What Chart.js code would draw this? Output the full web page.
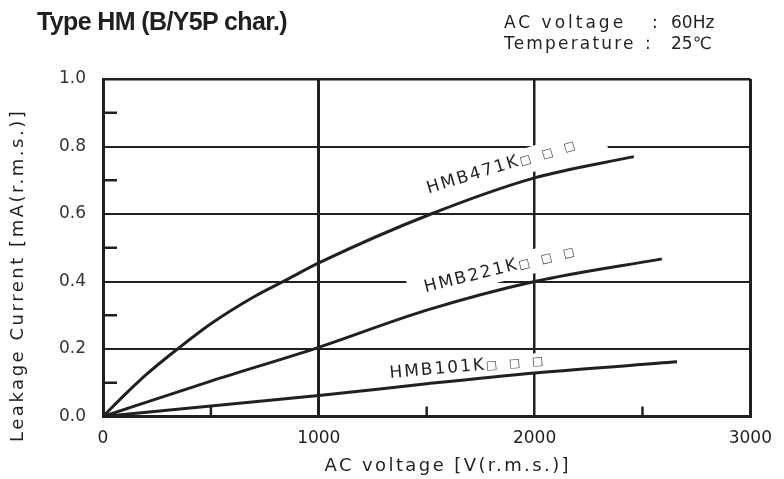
<!DOCTYPE html>
<html>
<head>
<meta charset="utf-8">
<script src="https://cdn.jsdelivr.net/npm/chart.js@4.4.1/dist/chart.umd.min.js"></script>
<style>
  html, body { margin: 0; padding: 0; background: #fff; }
  #wrap { position: relative; width: 784px; height: 479px; overflow: hidden; }
  #chart { position: absolute; left: 0; top: 0; }
  .txt { position: absolute; white-space: nowrap; color: #231f20; line-height: 1;
         font-family: 'DejaVu Sans', sans-serif; }
  #title { left: 37px; top: 7px; font: bold 25px 'Liberation Sans', sans-serif; }
  .hdr { font-size: 17px; }
  #yTitle { font-size: 18px; transform-origin: 0 0; }
  #xTitle { font-size: 18px; }
</style>
</head>
<body>
<div id="wrap">
  <canvas id="chart" width="784" height="479"></canvas>
  <div class="txt" id="title">Type HM (B/Y5P char.)</div>
  <div class="txt hdr" id="h1a" style="left:504px;top:14px">AC voltage</div>
  <div class="txt hdr" id="h1b" style="left:652px;top:14px">:</div>
  <div class="txt hdr" id="h1c" style="left:671px;top:14px">60Hz</div>
  <div class="txt hdr" id="h2a" style="left:504px;top:35px">Temperature</div>
  <div class="txt hdr" id="h2b" style="left:645px;top:35px">:</div>
  <div class="txt hdr" id="h2c" style="left:671px;top:35px">25℃</div>
  <div class="txt" id="yTitle">Leakage Current [mA(r.m.s.)]</div>
  <div class="txt" id="xTitle">AC voltage [V(r.m.s.)]</div>
</div>
<script>
// axes
const xTicks = [0, 1000, 2000, 3000];
const yTicks = [0.0, 0.2, 0.4, 0.6, 0.8, 1.0];
const xMinorTicks = [500, 1500, 2500];
const yMinorTicks = [0.1, 0.3, 0.5, 0.7, 0.9];

// curves: voltage [V] / leakage current [mA]
const hmb471kVoltage = [0, 100, 200, 345, 500, 700, 850, 1000, 1520, 2000, 2460];
const hmb471kCurrent = [0, 0.064, 0.124, 0.2, 0.275, 0.355, 0.405, 0.455, 0.6, 0.707, 0.77];
const hmb221kVoltage = [0, 500, 1000, 1500, 2000, 2590];
const hmb221kCurrent = [0, 0.105, 0.205, 0.315, 0.40, 0.467];
const hmb101kVoltage = [0, 500, 1000, 1500, 2000, 2660];
const hmb101kCurrent = [0, 0.031, 0.062, 0.097, 0.129, 0.162];

const seriesNames = ['HMB471K', 'HMB221K', 'HMB101K'];

// where each curve name sits (data coords of text start), with its slope
const curveLabels = [
  { text: 'HMB471K', x: 1508, y: 0.661, angle: -17, top: 15, bottom: 10, end: 185 },
  { text: 'HMB221K', x: 1495, y: 0.368, angle: -14, top: 16, bottom: 8, end: 178 },
  { text: 'HMB101K', x: 1330, y: 0.114, angle: -5, top: 12, bottom: 7, end: 168 },
];

const INK = '#231f20';

function toPoints(xs, ys) {
  return xs.map((x, i) => ({ x, y: ys[i] }));
}

function fitWidth(id, target) {
  const el = document.getElementById(id);
  const n = el.textContent.length;
  const w = el.offsetWidth;
  el.style.letterSpacing = ((target - w) / n) + 'px';
}

const curveNotes = {
  id: 'curveNotes',
  beforeDatasetsDraw(chart) {
    const { ctx, chartArea, scales } = chart;
    ctx.save();
    ctx.strokeStyle = INK;
    ctx.lineWidth = 2.5;
    yMinorTicks.forEach((v) => {
      const y = scales.y.getPixelForValue(v);
      ctx.beginPath();
      ctx.moveTo(chartArea.left, y);
      ctx.lineTo(chartArea.left + 14, y);
      ctx.stroke();
    });
    xMinorTicks.forEach((v) => {
      const x = scales.x.getPixelForValue(v);
      ctx.beginPath();
      ctx.moveTo(x, chartArea.bottom);
      ctx.lineTo(x, chartArea.bottom - 10);
      ctx.stroke();
    });
    // white patches behind the curve names break the grid lines
    ctx.fillStyle = '#fff';
    curveLabels.forEach((l) => {
      ctx.save();
      ctx.translate(scales.x.getPixelForValue(l.x), scales.y.getPixelForValue(l.y));
      ctx.rotate(l.angle * Math.PI / 180);
      ctx.fillRect(-16, -l.top, l.end + 16, l.top + l.bottom);
      ctx.restore();
    });
    ctx.restore();
  },
  afterDatasetsDraw(chart) {
    const { ctx, scales } = chart;
    ctx.save();
    curveLabels.forEach((l) => {
      ctx.save();
      ctx.translate(scales.x.getPixelForValue(l.x), scales.y.getPixelForValue(l.y));
      ctx.rotate(l.angle * Math.PI / 180);
      ctx.fillStyle = INK;
      ctx.font = '17px "DejaVu Sans"';
      ctx.letterSpacing = '2px';
      ctx.textBaseline = 'alphabetic';
      ctx.fillText(l.text, 0, 0);
      const w = ctx.measureText(l.text).width;
      ctx.letterSpacing = '0px';
      ctx.fillStyle = '#444';
      ctx.font = '12px "DejaVu Sans"';
      [0, 23, 46].forEach((dx) => ctx.fillText('□', w + dx, 0));
      ctx.restore();
    });
    ctx.restore();
  },
};

const lineStyle = {
  showLine: true,
  borderColor: INK,
  backgroundColor: INK,
  borderWidth: 3,
  pointRadius: 0,
  cubicInterpolationMode: 'monotone',
  clip: false,
};

new Chart(document.getElementById('chart'), {
  type: 'scatter',
  data: {
    datasets: [
      { label: seriesNames[0], data: toPoints(hmb471kVoltage, hmb471kCurrent), ...lineStyle },
      { label: seriesNames[1], data: toPoints(hmb221kVoltage, hmb221kCurrent), ...lineStyle },
      { label: seriesNames[2], data: toPoints(hmb101kVoltage, hmb101kCurrent), ...lineStyle },
    ],
  },
  options: {
    responsive: false,
    animation: false,
    events: [],
    layout: { padding: { top: 79, right: 27, left: 0, bottom: 0 } },
    plugins: { legend: { display: false }, tooltip: { enabled: false } },
    scales: {
      x: {
        type: 'linear',
        min: xTicks[0],
        max: xTicks[xTicks.length - 1],
        afterFit: (s) => { s.height = 62.5; },
        afterBuildTicks: (s) => { s.ticks = xTicks.map((v) => ({ value: v })); },
        border: { display: true, color: INK, width: 3 },
        grid: {
          drawTicks: false,
          color: INK,
          lineWidth: (c) => (c.tick && c.tick.value === 2000 ? 2.5 : 3),
        },
        ticks: {
          padding: 12,
          color: INK,
          font: { family: 'DejaVu Sans', size: 17 },
          callback: (v) => String(v),
        },
      },
      y: {
        type: 'linear',
        min: yTicks[0],
        max: yTicks[yTicks.length - 1],
        afterFit: (s) => { s.width = 103; },
        afterBuildTicks: (s) => { s.ticks = yTicks.map((v) => ({ value: v })); },
        border: { display: true, color: INK, width: 3 },
        grid: {
          drawTicks: false,
          color: INK,
          lineWidth: (c) => (c.tick && c.tick.value === 1 ? 2.5 : 2),
        },
        ticks: {
          padding: 17,
          color: '#333',
          font: { family: 'DejaVu Sans', size: 17 },
          callback: (v) => Number(v).toFixed(1),
        },
      },
    },
  },
  plugins: [curveNotes],
});

fitWidth('title', 250);
fitWidth('h1a', 122);
fitWidth('h2a', 132);
fitWidth('xTitle', 247);
fitWidth('yTitle', 333);

const xt = document.getElementById('xTitle');
xt.style.left = (448 - xt.offsetWidth / 2) + 'px';
xt.style.top = '456px';
const yt = document.getElementById('yTitle');
yt.style.left = '8px';
yt.style.top = (275 + yt.offsetWidth / 2) + 'px';
yt.style.transform = 'rotate(-90deg)';
</script>
</body>
</html>
